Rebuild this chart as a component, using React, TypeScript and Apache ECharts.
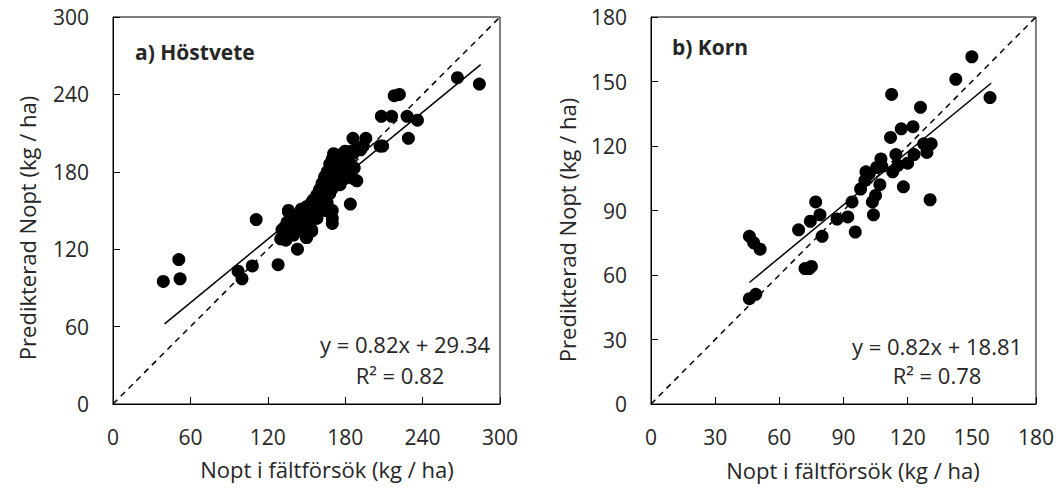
import React, { useEffect, useRef } from "react";
import * as echarts from "echarts";

// a) Höstvete (winter wheat): observed (x) vs predicted (y)
const wheatX = [
  39, 51, 52, 97, 100, 108, 111, 128, 136, 143, 150, 154, 158, 170, 170, 170, 184, 186, 196, 189, 187, 207, 209, 208, 216, 218, 222, 228, 229, 236, 267, 284,
  130, 131, 132, 133, 134, 135, 136, 137, 138, 139, 140, 141, 142, 144, 145, 146, 147, 148, 149, 150, 150, 151, 152, 153, 154, 154, 155, 156, 157, 158, 158,
  159, 160, 160, 161, 162, 162, 163, 164, 164, 165, 166, 166, 167, 168, 168, 169, 170, 170, 171, 172, 172, 173, 174, 175, 176, 177, 178, 179, 180, 181, 183,
  185, 186, 188, 190, 192, 194, 176, 180, 183, 186, 184, 165,
];
const wheatY = [
  95, 112, 97, 103, 97, 107, 143, 108, 149, 120, 129, 134, 144, 150, 144, 140, 155, 206, 206, 173, 183, 200, 200, 223, 223, 239, 240, 223, 206, 220, 253, 248,
  128, 135, 131, 137, 127, 141, 150, 133, 139, 145, 131, 137, 143, 147, 139, 151, 143, 135, 149, 153, 129, 145, 141, 155, 135, 149, 158, 147, 152, 162, 144,
  156, 166, 150, 160, 171, 155, 165, 176, 160, 169, 180, 156, 174, 186, 163, 178, 190, 167, 194, 182, 171, 188, 176, 192, 184, 190, 194, 180, 196, 188, 192,
  196, 194, 197, 198, 197, 200, 170, 175, 182, 175, 186, 150,
];

// b) Korn (barley)
const barleyX = [
  46, 49, 46, 48, 51, 69, 74.5, 77, 79, 80, 72, 74, 75, 87, 92, 94, 95.5, 98, 100, 100.5, 102, 104, 103.5, 105, 105.5, 107, 107.5, 108,
  112.5, 112, 113, 114.5, 115.5, 117, 118, 120, 122.5, 123, 126, 127.5, 129, 131, 130.5, 142.5, 150, 158.5,
];
const barleyY = [
  49, 51, 78, 75, 72, 81, 85, 94, 88, 78, 63, 63, 64, 86, 87, 94, 80, 100, 104, 108, 107, 88, 94, 97, 110, 102, 114, 110.5,
  144, 124, 108, 116, 111, 128, 101, 112, 129, 116, 138, 121, 117, 121, 95, 151, 161.5, 142.5,
];

// Trendlines (from the equations shown in the chart) and 1:1 lines
const wheatFit = { slope: 0.82, intercept: 29.34, x: [40, 285] };
const barleyFit = { slope: 0.82, intercept: 18.81, x: [46, 159] };
const wheatOneToOne = [0, 300];
const barleyOneToOne = [0, 180];

const wheatTicks = { min: 0, max: 300, interval: 60 };
const barleyTicks = { min: 0, max: 180, interval: 30 };

const FONT = "Open Sans";
const TXT = "#262626";

function pairs(xs: number[], ys: number[]) {
  return xs.map((x, i) => [x, ys[i]]);
}

export default function App() {
  const ref = useRef<HTMLDivElement>(null);
  useEffect(() => {
    if (!ref.current) return;
    const chart = echarts.init(ref.current, null, { renderer: "svg" });

    const axisCommon = (t: { min: number; max: number; interval: number }) => ({
      type: "value" as const,
      min: t.min,
      max: t.max,
      interval: t.interval,
      splitLine: { show: false },
      axisLine: { show: true, onZero: false, lineStyle: { color: "#000", width: 1 } },
      axisTick: { show: true, inside: true, length: 7, lineStyle: { color: "#000", width: 1 } },
      axisLabel: { color: TXT, fontFamily: FONT, fontSize: 21 },
    });

    const grids = [
      { left: 113, top: 17, width: 387, height: 387 },
      { left: 651, top: 17, width: 385, height: 387 },
    ].map((g) => ({ ...g, show: true, borderColor: "#000", borderWidth: 1, backgroundColor: "transparent" }));

    const xAxes = [wheatTicks, barleyTicks].map((t, i) => ({
      ...axisCommon(t),
      gridIndex: i,
      axisLabel: { ...axisCommon(t).axisLabel, margin: 22 },
    }));
    const yAxes = [wheatTicks, barleyTicks].map((t, i) => ({
      ...axisCommon(t),
      gridIndex: i,
      axisLabel: { ...axisCommon(t).axisLabel, margin: 24 },
    }));

    const fitLine = (f: { slope: number; intercept: number; x: number[] }) =>
      f.x.map((x) => [x, f.slope * x + f.intercept]);
    const diag = (r: number[]) => r.map((v) => [v, v]);

    const series: any[] = [];
    [
      { pts: pairs(wheatX, wheatY), fit: wheatFit, d: wheatOneToOne },
      { pts: pairs(barleyX, barleyY), fit: barleyFit, d: barleyOneToOne },
    ].forEach((p, i) => {
      series.push({
        type: "line",
        xAxisIndex: i,
        yAxisIndex: i,
        data: diag(p.d),
        symbol: "none",
        lineStyle: { color: "#000", width: 1.5, type: [6, 5] },
        z: 1,
      });
      series.push({
        type: "line",
        xAxisIndex: i,
        yAxisIndex: i,
        data: fitLine(p.fit),
        symbol: "none",
        lineStyle: { color: "#000", width: 1.5 },
        z: 2,
      });
      series.push({
        type: "scatter",
        xAxisIndex: i,
        yAxisIndex: i,
        data: p.pts,
        symbol: "circle",
        symbolSize: 13,
        itemStyle: { color: "#000", opacity: 1 },
        z: 3,
      });
    });

    const text = (x: number, y: number, t: string, extra: any = {}) => ({
      type: "text",
      x,
      y,
      style: {
        text: t,
        fill: TXT,
        font: `${extra.fontWeight || "normal"} ${extra.fontSize || 21}px "${FONT}"`,
        textAlign: extra.align || "center",
        textVerticalAlign: "middle",
      },
      rotation: extra.rotation || 0,
      z: 10,
    });

    const graphic = [
      text(135, 52, "a) Höstvete", { fontWeight: "bold", fontSize: 21, align: "left", }),
      text(672, 47, "b) Korn", { fontWeight: "bold", fontSize: 21, align: "left" }),
      text(405, 344, "y = 0.82x + 29.34", { fontSize: 22 }),
      text(400, 375, "R² = 0.82", { fontSize: 22 }),
      text(937, 346, "y = 0.82x + 18.81", { fontSize: 22 }),
      text(937, 375, "R² = 0.78", { fontSize: 22 }),
      text(327, 469, "Nopt i fältförsök (kg / ha)", { fontSize: 22 }),
      text(853, 470, "Nopt i fältförsök (kg / ha)", { fontSize: 22 }),
      text(27, 228, "Predikterad Nopt (kg / ha)", { rotation: Math.PI / 2, fontSize: 22 }),
      text(567, 230, "Predikterad Nopt (kg / ha)", { rotation: Math.PI / 2, fontSize: 22 }),
    ];

    chart.setOption({
      animation: false,
      backgroundColor: "#fff",
      grid: grids,
      xAxis: xAxes,
      yAxis: yAxes,
      series,
      graphic,
    });
    return () => chart.dispose();
  }, []);

  return (
    <div
      ref={ref}
      style={{ position: "fixed", left: 0, top: 0, width: 1057, height: 490, background: "#fff" }}
    />
  );
}
